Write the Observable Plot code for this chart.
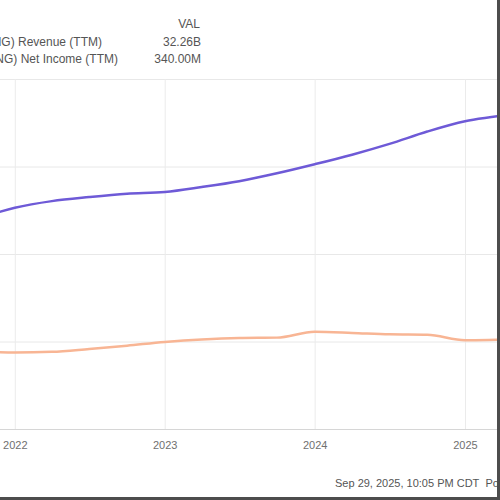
<!DOCTYPE html>
<html>
<head>
<meta charset="utf-8">
<script src="https://cdn.jsdelivr.net/npm/d3@7"></script>
<script src="https://cdn.jsdelivr.net/npm/@observablehq/plot@0.6"></script>
<style>
  html, body { margin: 0; padding: 0; background: #fff; }
  #wrap { position: relative; width: 500px; height: 500px; overflow: hidden; font-family: "Liberation Sans", Arial, sans-serif; }
  #chart { position: absolute; left: 0; top: 0; }
  .lg { position: absolute; white-space: nowrap; font-size: 12px; color: #555; line-height: 14px; }
  .caption { position: absolute; white-space: nowrap; font-size: 11px; color: #555; line-height: 13px; }
  #frame { position: absolute; left: 0; top: 0; width: 500px; height: 500px; box-sizing: border-box; border-right: 3px solid #4d4d4d; border-bottom: 3px solid #4d4d4d; pointer-events: none; }
</style>
</head>
<body>
<div id="wrap">
  <div id="chart"></div>
  <div class="lg" style="right:300px; top:17px;">VAL</div>
  <div class="lg" style="right:398px; top:35px;">Coupang Inc (CPNG) Revenue (TTM)</div>
  <div class="lg" style="right:299px; top:35px;">32.26B</div>
  <div class="lg" style="right:382px; top:52px;">Coupang Inc (CPNG) Net Income (TTM)</div>
  <div class="lg" style="right:299px; top:52px;">340.00M</div>
  <div class="caption" style="left:335px; top:477px;">Sep 29, 2025, 10:05 PM CDT&nbsp; Powered by YCHARTS</div>
  <div id="frame"></div>
</div>
<script>
// Quarter-end dates (TTM figures)
const dates = [
  "2021-09-30", "2021-12-31", "2022-03-31", "2022-06-30", "2022-09-30",
  "2022-12-31", "2023-03-31", "2023-06-30", "2023-09-30", "2023-12-31",
  "2024-03-31", "2024-06-30", "2024-09-30", "2024-12-31", "2025-03-31",
  "2025-06-30"
];
// Revenue (TTM), billions USD
const revenue = [
  16.92, 18.41, 19.32, 19.88, 20.34,
  20.58, 21.26, 22.06, 23.14, 24.38,
  25.69, 27.17, 28.86, 30.27, 31.07,
  32.26
];
// Net income (TTM), billions USD
const netIncome = [
  -1.2, -1.45, -1.35, -0.95, -0.5,
  0.0, 0.35, 0.55, 0.6, 1.4,
  1.25, 1.05, 1.0, 0.25, 0.3,
  0.34
];
const yearTicks = ["2022-01-01", "2023-01-01", "2024-01-01", "2025-01-01"];
const yTicks = [-12, 0, 12, 24, 36];
const xDomain = ["2021-11-26", "2025-03-20"];

const revData = dates.map((d, i) => ({date: new Date(d), value: revenue[i]}));
const niData = dates.map((d, i) => ({date: new Date(d), value: netIncome[i]}));
const yearDates = yearTicks.map(d => new Date(d));

const chart = Plot.plot({
  width: 500,
  height: 500,
  marginTop: 79,
  marginBottom: 71,
  marginLeft: 0,
  marginRight: 3,
  style: {fontFamily: "Liberation Sans, Arial, sans-serif", background: "transparent"},
  x: {type: "utc", domain: xDomain.map(d => new Date(d)), label: null, axis: null},
  y: {domain: [-12, 36], label: null, axis: null},
  marks: [
    Plot.gridY(yTicks, {stroke: "#e8e8e8", strokeOpacity: 1}),
    Plot.gridX(yearDates, {stroke: "#ebebeb", strokeOpacity: 1}),
    Plot.ruleY([-12], {stroke: "#d6d6d6", strokeWidth: 1.2}),
    Plot.axisX(yearDates, {
      anchor: "bottom", tickSize: 0, tickPadding: 12,
      tickFormat: d3.utcFormat("%Y"), fontSize: 11, fill: "#707070", label: null
    }),
    Plot.line(niData, {x: "date", y: "value", stroke: "#f8b594", strokeWidth: 2.5, curve: "monotone-x", clip: true}),
    Plot.line(revData, {x: "date", y: "value", stroke: "#6e5ad7", strokeWidth: 2.5, curve: "monotone-x", clip: true})
  ]
});
document.getElementById("chart").appendChild(chart);
</script>
</body>
</html>
